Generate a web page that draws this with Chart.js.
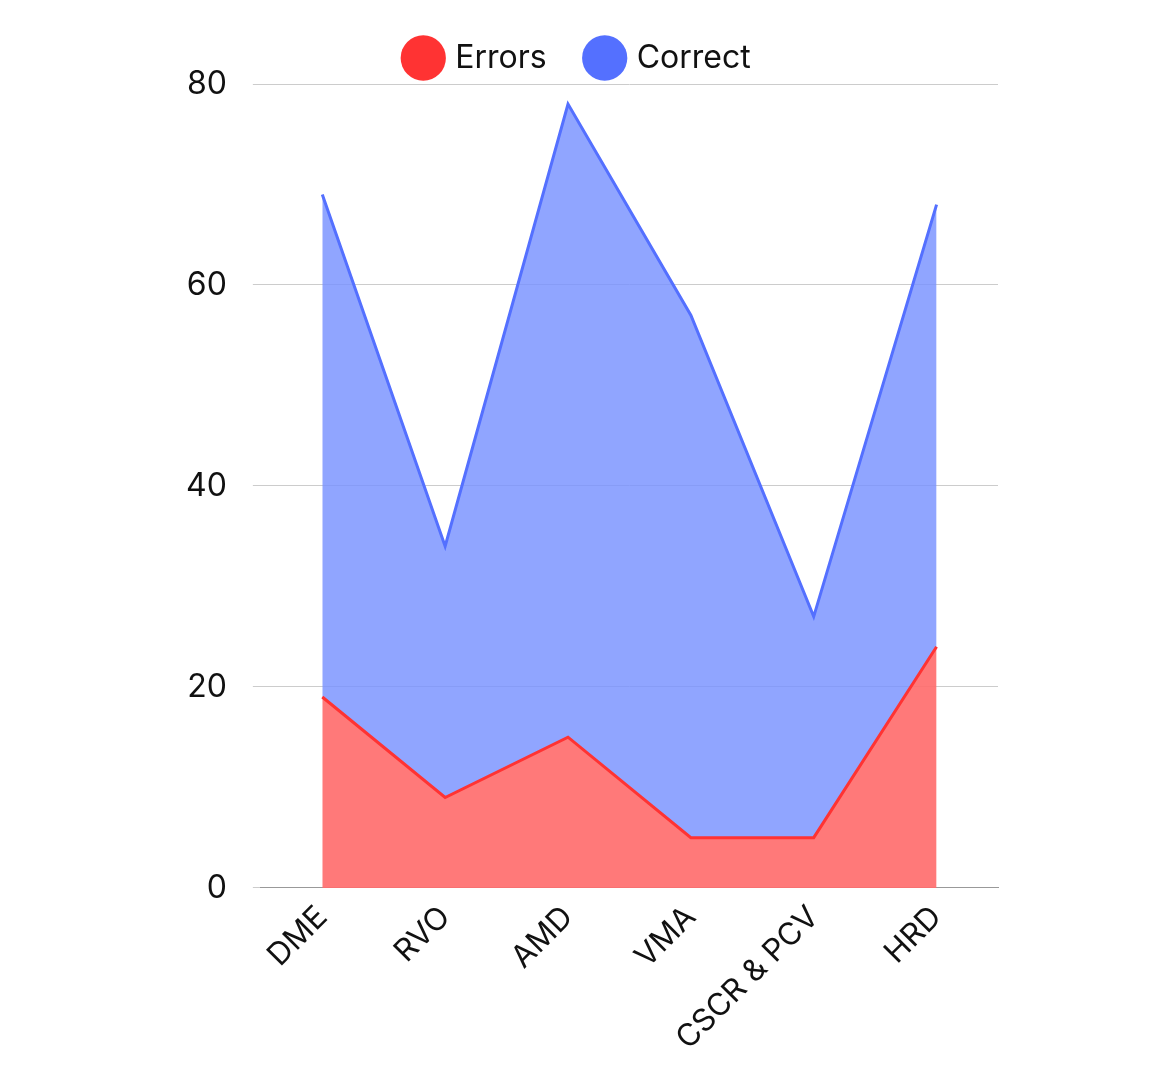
<!DOCTYPE html>
<html><head><meta charset="utf-8">
<script src="https://cdn.jsdelivr.net/npm/chart.js@4"></script>
<style>html,body{margin:0;background:#fff}#wrap{width:1174px;height:1080px}</style>
</head><body><div id="wrap"><canvas id="c"></canvas></div>
<script>
const categories = ['DME', 'RVO', 'AMD', 'VMA', 'CSCR & PCV', 'HRD'];
const errors = [19, 9, 15, 5, 5, 24];
const correct = [50, 25, 63, 52, 22, 44];
const yTicks = [0, 20, 40, 60, 80];
const legendColors = ['#ff3333', '#5470ff'];

Chart.defaults.font.family = 'Inter, "Open Sans", sans-serif';
Chart.defaults.color = '#111';

new Chart(document.getElementById('c'), {
    type: 'line',
    data: {
        labels: categories,
        datasets: [
            { label: 'Errors', data: errors, borderColor: '#ff3333', backgroundColor: 'rgba(255,110,110,0.92)', fill: 'origin', borderWidth: 3, pointRadius: 0, tension: 0 },
            { label: 'Correct', data: correct, borderColor: '#5470ff', backgroundColor: 'rgba(120,145,255,0.82)', fill: '-1', borderWidth: 3, pointRadius: 0, tension: 0 }
        ]
    },
    options: {
        responsive: true, maintainAspectRatio: false, animation: false,
        layout: { padding: { left: 160, right: 176, top: 0, bottom: 20 } },
        plugins: {
            legend: {
                labels: {
                    usePointStyle: true, pointStyle: 'circle', boxWidth: 36, boxHeight: 36, padding: 42, font: { size: 32 },
                    generateLabels: chart => chart.data.datasets.map((d, i) => ({
                        text: d.label, fillStyle: legendColors[i], strokeStyle: legendColors[i], lineWidth: 0,
                        pointStyle: 'circle', datasetIndex: i, fontColor: '#111'
                    }))
                }
            },
            tooltip: { enabled: false }
        },
        scales: {
            x: {
                offset: true,
                grid: { display: false },
                border: { color: '#999' },
                ticks: { maxRotation: 45, minRotation: 45, font: { size: 31 } }
            },
            y: {
                stacked: true, min: 0, max: 80,
                border: { display: false },
                grid: { color: '#ccc' },
                afterBuildTicks: axis => { axis.ticks = yTicks.map(v => ({ value: v })); },
                ticks: { padding: 26, font: { size: 32 } }
            }
        }
    }
});
</script></body></html>
